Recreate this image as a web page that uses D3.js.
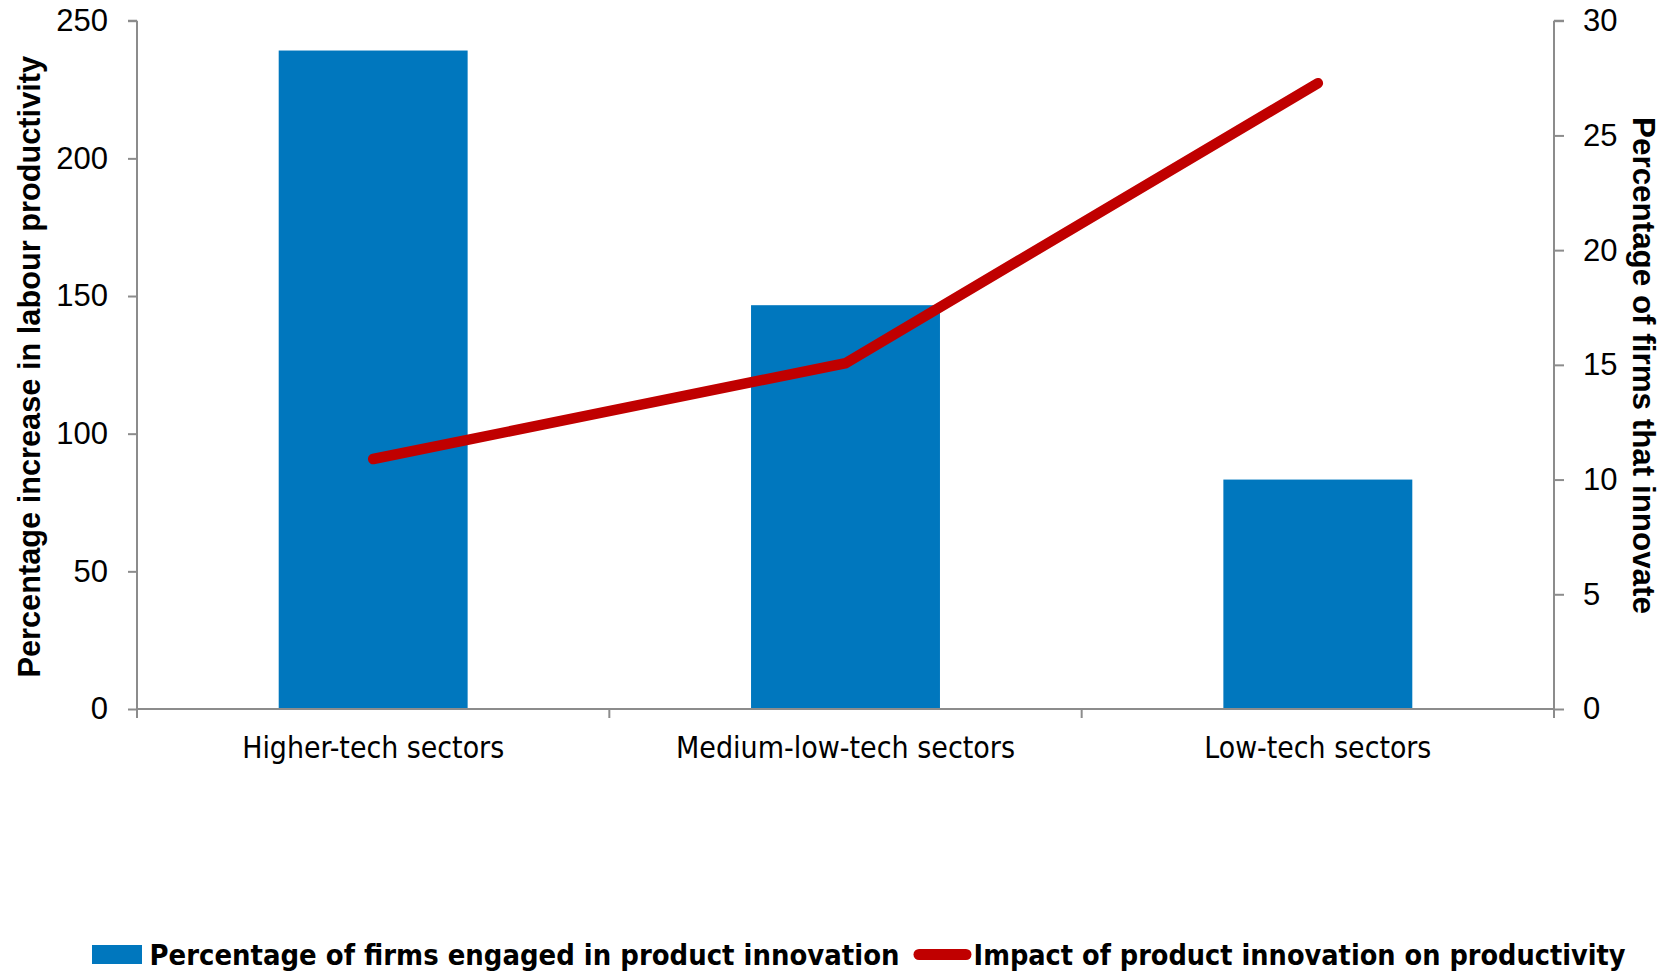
<!DOCTYPE html>
<html>
<head>
<meta charset="utf-8">
<script src="https://cdn.jsdelivr.net/npm/d3@7"></script>
<style>
  html, body { margin: 0; padding: 0; background: #ffffff; }
  svg { display: block; }
</style>
</head>
<body>
<svg id="chart" width="1674" height="977"></svg>
<script>
// ---- data ----
const categories = ["Higher-tech sectors", "Medium-low-tech sectors", "Low-tech sectors"];
const firmsInnovating = [28.7, 17.6, 10.0];        // bars, right axis (%)
const productivityImpact = [90.8, 125.6, 227.3];   // line, left axis (%)
const leftTicks = [0, 50, 100, 150, 200, 250];
const rightTicks = [0, 5, 10, 15, 20, 25, 30];
const leftTitle = "Percentage increase in labour productivity";
const rightTitle = "Percentage of firms that innovate";
const legendLabels = ["Percentage of firms engaged in product innovation", "Impact of product innovation on productivity"];

// ---- layout ----
const svg = d3.select("#chart");
const X0 = 137, X1 = 1554, Y0 = 709, Y1 = 20.7;
const axisColor = "#8c8c8c";
const barColor = "#0077be";
const lineColor = "#c00000";
const numFont = "'Liberation Sans', Arial, sans-serif";
const narrowFont = "'Liberation Sans Narrow', 'Arial Narrow', 'DejaVu Sans Condensed', sans-serif";

const x = d3.scaleBand().domain(categories).range([X0, X1]).paddingInner(0.6).paddingOuter(0.3);
const yL = d3.scaleLinear().domain([0, 250]).range([Y0, Y1]);
const yR = d3.scaleLinear().domain([0, 30]).range([Y0, Y1]);

// bars
svg.append("g").selectAll("rect").data(categories).join("rect")
  .attr("x", d => x(d))
  .attr("width", x.bandwidth())
  .attr("y", (d, i) => yR(firmsInnovating[i]))
  .attr("height", (d, i) => Y0 - yR(firmsInnovating[i]))
  .attr("fill", barColor);

// x axis (ticks at category boundaries)
const gx = svg.append("g");
gx.append("line").attr("x1", X0).attr("x2", X1).attr("y1", Y0).attr("y2", Y0)
  .attr("stroke", axisColor).attr("stroke-width", 2);
const bounds = [X0].concat(categories.map(c => x(c) + x.bandwidth() / 2 + x.step() / 2));
gx.selectAll("line.tick").data(bounds).join("line").attr("class", "tick")
  .attr("x1", d => d).attr("x2", d => d).attr("y1", Y0).attr("y2", Y0 + 9)
  .attr("stroke", axisColor).attr("stroke-width", 2);
const catWidths = [262, 339, 227];
gx.selectAll("text").data(categories).join("text")
  .attr("x", d => x(d) + x.bandwidth() / 2)
  .attr("y", 758)
  .attr("text-anchor", "middle")
  .attr("font-family", narrowFont)
  .attr("font-size", 30)
  .attr("fill", "#000")
  .attr("textLength", (d, i) => catWidths[i])
  .attr("lengthAdjust", "spacingAndGlyphs")
  .text(d => d);

// left axis
const gl = svg.append("g").attr("transform", `translate(${X0},0)`)
  .call(d3.axisLeft(yL).tickValues(leftTicks).tickSize(9).tickPadding(20));
gl.select(".domain").attr("stroke", axisColor).attr("stroke-width", 2).attr("d", `M0,${Y0}V${Y1}M-9,${Y1}H0`);
gl.selectAll(".tick line").attr("stroke", axisColor).attr("stroke-width", 2);
gl.selectAll(".tick text").attr("font-family", numFont).attr("font-size", 31).attr("fill", "#000");

// right axis
const gr = svg.append("g").attr("transform", `translate(${X1},0)`)
  .call(d3.axisRight(yR).tickValues(rightTicks).tickSize(10).tickPadding(19));
gr.select(".domain").attr("stroke", axisColor).attr("stroke-width", 2).attr("d", `M0,${Y0}V${Y1}M10,${Y1}H0`);
gr.selectAll(".tick line").attr("stroke", axisColor).attr("stroke-width", 2);
gr.selectAll(".tick text").attr("font-family", numFont).attr("font-size", 31).attr("fill", "#000");

// line
const line = d3.line()
  .x((d, i) => x(categories[i]) + x.bandwidth() / 2)
  .y(d => yL(d));
svg.append("path").datum(productivityImpact)
  .attr("d", line)
  .attr("fill", "none")
  .attr("stroke", lineColor)
  .attr("stroke-width", 10.5)
  .attr("stroke-linecap", "round")
  .attr("stroke-linejoin", "miter");

// axis titles
function fit(sel, target) {
  const node = sel.node();
  const fs = parseFloat(sel.attr("font-size"));
  const w = node.getComputedTextLength();
  sel.attr("font-size", fs * target / w);
}
const lt = svg.append("text")
  .attr("transform", `translate(40,${(55.5 + 678) / 2}) rotate(-90)`)
  .attr("text-anchor", "middle")
  .attr("font-family", numFont).attr("font-weight", "bold").attr("font-size", 28)
  .attr("fill", "#000").text(leftTitle);
fit(lt, 622);
const rt = svg.append("text")
  .attr("transform", `translate(1633,${(117 + 614) / 2}) rotate(90)`)
  .attr("text-anchor", "middle")
  .attr("font-family", numFont).attr("font-weight", "bold").attr("font-size", 28)
  .attr("fill", "#000").text(rightTitle);
fit(rt, 497);

// legend
const lg = svg.append("g");
lg.append("rect").attr("x", 92).attr("y", 945).attr("width", 50).attr("height", 19).attr("fill", barColor);
const legText = (xPos, label, target) => {
  const t = lg.append("text").attr("x", xPos).attr("y", 965)
    .attr("font-family", narrowFont).attr("font-weight", "bold").attr("font-size", 30)
    .attr("fill", "#000").text(label);
  const w = t.node().getComputedTextLength();
  if (w > target) t.attr("font-size", 30 * target / w);
  t.attr("textLength", target).attr("lengthAdjust", "spacingAndGlyphs");
};
legText(149.5, legendLabels[0], 750);
lg.append("line").attr("x1", 919).attr("x2", 966).attr("y1", 954.5).attr("y2", 954.5)
  .attr("stroke", lineColor).attr("stroke-width", 11).attr("stroke-linecap", "round");
legText(973.6, legendLabels[1], 652);
</script>
</body>
</html>
